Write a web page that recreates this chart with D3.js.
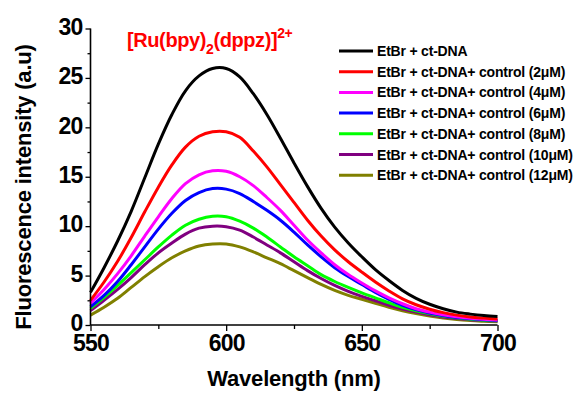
<!DOCTYPE html>
<html><head><meta charset="utf-8">
<script src="https://cdn.jsdelivr.net/npm/d3@7"></script>
<style>body{margin:0;background:#fff}svg{display:block}text{font-family:"Liberation Sans",Arial,sans-serif;font-weight:bold}</style>
</head><body><svg id="c" width="577" height="396"></svg>
<script>
const wavelengths = d3.range(550, 701, 5);
const seriesNames = ["EtBr + ct-DNA","EtBr + ct-DNA+ control (2\u03bcM)","EtBr + ct-DNA+ control (4\u03bcM)","EtBr + ct-DNA+ control (6\u03bcM)","EtBr + ct-DNA+ control (8\u03bcM)","EtBr + ct-DNA+ control (10\u03bcM)","EtBr + ct-DNA+ control (12\u03bcM)"];
const seriesColors = ["#000000","#ff0000","#ff00ff","#0000ff","#00ff00","#800080","#808000"];
const black   = [3.3,5.8,8.5,11.5,14.9,18.3,21.3,23.7,25.2,25.95,25.95,25.1,23.4,21.3,18.9,16.4,14.0,11.8,9.9,8.3,6.9,5.6,4.5,3.5,2.7,2.1,1.65,1.3,1.1,0.95,0.85];
const red     = [2.5,4.35,6.45,8.85,11.45,13.95,16.2,18.0,19.1,19.55,19.55,19.0,17.6,16.0,14.2,12.4,10.6,9.0,7.6,6.4,5.35,4.35,3.45,2.65,2.05,1.6,1.25,1.0,0.82,0.7,0.6];
const magenta = [2.2,3.6,5.2,7.0,9.0,10.95,12.8,14.3,15.2,15.6,15.55,15.0,14.1,12.9,11.6,10.1,8.6,7.3,6.1,5.1,4.25,3.45,2.75,2.15,1.65,1.3,1.03,0.83,0.68,0.57,0.5];
const blue    = [1.85,3.0,4.4,6.1,7.9,9.7,11.3,12.6,13.4,13.8,13.75,13.3,12.5,11.6,10.6,9.4,8.1,6.9,5.8,4.9,4.1,3.3,2.6,2.0,1.55,1.2,0.95,0.75,0.62,0.52,0.45];
const green   = [1.7,2.8,4.0,5.3,6.6,7.9,9.1,10.1,10.7,11.0,10.95,10.5,9.8,8.9,7.9,6.9,6.0,5.1,4.4,3.8,3.25,2.75,2.25,1.8,1.45,1.15,0.9,0.72,0.58,0.48,0.42];
const purple  = [1.45,2.5,3.6,4.8,6.1,7.3,8.3,9.2,9.8,10.0,9.95,9.6,8.9,8.1,7.3,6.4,5.5,4.7,4.0,3.4,2.9,2.45,2.0,1.62,1.3,1.03,0.82,0.66,0.54,0.45,0.38];
const olive   = [1.0,1.8,2.7,3.8,4.9,5.9,6.8,7.5,8.0,8.2,8.2,7.9,7.4,6.8,6.2,5.5,4.8,4.1,3.5,3.0,2.6,2.2,1.8,1.45,1.15,0.9,0.7,0.55,0.45,0.38,0.32];
const seriesValues = [black, red, magenta, blue, green, purple, olive];
const xTicks = [550,600,650,700];
const yTicks = [0,5,10,15,20,25,30];

const svg = d3.select("#c");
const x = d3.scaleLinear().domain([550,700]).range([90.5,497.5]);
const y = d3.scaleLinear().domain([0,30]).range([325,28.5]);

// curves
const line = d3.line().x((d,i)=>x(wavelengths[i])).y(d=>y(d)).curve(d3.curveCatmullRom.alpha(0.5));
seriesValues.slice().reverse().forEach((vals,k)=>{
  const i = seriesValues.length-1-k;
  svg.append("path").attr("d", line(vals)).attr("fill","none")
    .attr("stroke", seriesColors[i]).attr("stroke-width",3);
});

// axes
const xAxis = svg.append("g").attr("transform","translate(0,325)")
  .call(d3.axisBottom(x).tickValues(xTicks).tickSize(6).tickPadding(4).tickFormat(d3.format("d")));
const xMinor = svg.append("g").attr("transform","translate(0,325)")
  .call(d3.axisBottom(x).tickValues([575,625,675]).tickSize(4).tickFormat(""));
const yAxis = svg.append("g").attr("transform","translate(90.5,0)")
  .call(d3.axisLeft(y).tickValues(yTicks).tickSize(5).tickPadding(3));
const yMinor = svg.append("g").attr("transform","translate(90.5,0)")
  .call(d3.axisLeft(y).tickValues([2.5,7.5,12.5,17.5,22.5,27.5]).tickSize(3).tickFormat(""));
[xAxis,xMinor,yAxis,yMinor].forEach(g=>{
  g.select(".domain").attr("stroke","#000").attr("stroke-width",1.6);
  g.selectAll(".tick line").attr("stroke","#000").attr("stroke-width",1.3);
});
[xMinor,yMinor].forEach(g=>g.select(".domain").remove());
xAxis.select(".domain").attr("d","M90.5,0H497.5");
yAxis.select(".domain").attr("d","M0,325V28.5");
xAxis.selectAll(".tick text").attr("font-size",23).attr("fill","#000").attr("letter-spacing",-0.8).attr("font-family",null);
yAxis.selectAll(".tick text").attr("font-size",23).attr("fill","#000").attr("letter-spacing",-0.8).attr("font-family",null).attr("dy","0.25em");

// axis titles
svg.append("text").attr("x",294).attr("y",386).attr("text-anchor","middle")
  .attr("font-size",22).attr("letter-spacing",-0.2).text("Wavelength (nm)");
svg.append("text").attr("transform","translate(31,187) rotate(-90)").attr("text-anchor","middle")
  .attr("font-size",22).attr("letter-spacing",-0.2).text("Fluorescence intensity (a.u)");

// title
const t = svg.append("text").attr("x",127).attr("y",47).attr("fill","#ff0000").attr("font-size",20).attr("letter-spacing",-0.4);
t.append("tspan").text("[Ru(bpy)");
t.append("tspan").attr("font-size",14).attr("dy",7).text("2");
t.append("tspan").attr("dy",-7).text("(dppz)]");
t.append("tspan").attr("font-size",14).attr("dy",-9).text("2+");

// legend
const lg = svg.append("g");
seriesNames.forEach((n,i)=>{
  const yy = 51 + i*20.7;
  lg.append("line").attr("x1",339).attr("x2",373).attr("y1",yy).attr("y2",yy)
    .attr("stroke",seriesColors[i]).attr("stroke-width",3);
  lg.append("text").attr("x",377).attr("y",yy+5).attr("font-size",14).attr("letter-spacing",-0.2).text(n);
});
</script></body></html>
